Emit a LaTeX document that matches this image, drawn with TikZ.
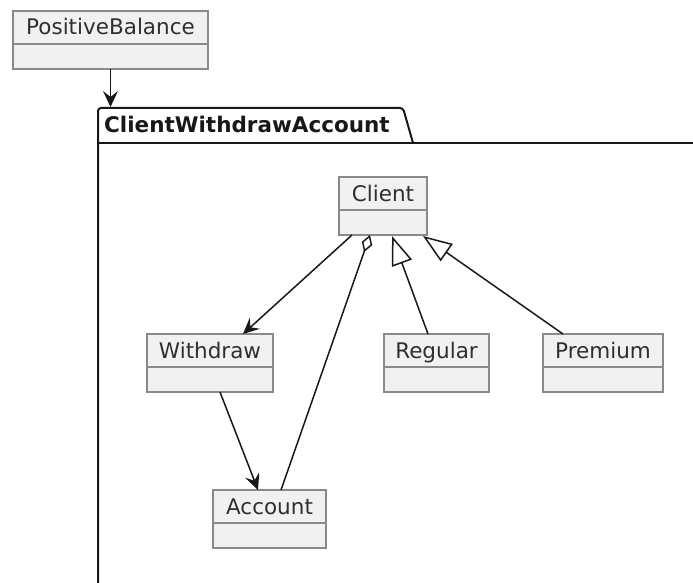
\documentclass[tikz,border=0pt]{standalone}
\usepackage{fontspec}
\setmainfont{DejaVu Sans}
\usetikzlibrary{arrows.meta,calc}

\definecolor{classfill}{HTML}{F1F1F1}
\definecolor{classline}{HTML}{8A8A8A}
\definecolor{ink}{HTML}{181818}

\tikzset{
  classbox/.style={draw=classline, fill=classfill, line width=1.4pt,
    rectangle, inner sep=0pt, outer sep=0pt, minimum height=58pt, anchor=north west},
  classdiv/.style={draw=classline, line width=1.4pt},
  classname/.style={font=\fontsize{21.5}{24}\selectfont, text=ink!90, inner sep=0pt, anchor=base},
  assoc/.style={draw=ink, line width=1.5pt,
    -{Stealth[length=16pt,width=15pt,inset=6pt]}},
  aggreg/.style={draw=ink, line width=1.5pt,
    {Diamond[open,length=18pt,width=11pt]}-},
  inherit/.style={draw=ink, line width=1.5pt,
    -{Triangle[open,length=29pt,width=21pt]}},
  pkgline/.style={draw=ink, line width=2pt},
}

% class box: name, left x, top y, width, label
\newcommand{\umlclass}[5]{%
  \node[classbox, minimum width=#4pt] (#1) at (#2,#3) {};
  \draw[classdiv] ($(#1.north west)+(0,33)$) -- ($(#1.north east)+(0,33)$);
  \node[classname] (#1-name) at ($(#1.north)+(0,24)$) {#5};
}

\begin{document}
\begin{tikzpicture}[x=1pt,y=-1pt]
\useasboundingbox (0,0) rectangle (693,583);

% classes
\umlclass{positive}{13}{11}{195}{PositiveBalance}
\umlclass{client}{339}{177}{88}{Client}
\umlclass{withdraw}{147}{334}{126}{Withdraw}
\umlclass{regular}{384}{334}{105}{Regular}
\umlclass{premium}{543}{334}{120}{Premium}
\umlclass{account}{213}{490}{113}{Account}

% package frame with its tab
\draw[pkgline, rounded corners=3pt] (98,583) -- (98,108) -- (403,108) -- (413,143);
\draw[pkgline] (98,143) -- (693,143);
\coordinate (pkgtab) at (positive.south |- 0,107);
\node[font=\fontsize{21.5}{24}\bfseries\selectfont, text=ink, inner sep=0pt, anchor=base west]
  (pkgtitle) at (104,132) {ClientWithdrawAccount};

% relations
\draw[assoc] (positive.south) -- (pkgtab);
\draw[assoc] ($(client.south west)+(13,0)$) -- ($(withdraw.north west)+(96,0)$);
\draw[aggreg] ($(client.south west)+(31,0)$) -- ($(account.north west)+(68,0)$);
\draw[inherit] ($(regular.north west)+(44,0)$) -- ($(client.south west)+(53,1)$);
\draw[inherit] ($(premium.north west)+(20,0)$) -- ($(client.south west)+(84,1)$);
\draw[assoc] ($(withdraw.south west)+(73,0)$) -- ($(account.north west)+(45,0)$);
\end{tikzpicture}
\end{document}
